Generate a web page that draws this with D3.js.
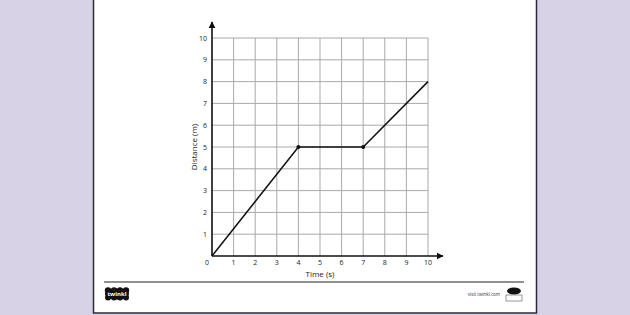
<!DOCTYPE html>
<html>
<head>
<meta charset="utf-8">
<script src="https://cdn.jsdelivr.net/npm/d3@7"></script>
<style>
  body { margin: 0; background: #d8d2e7; }
  svg { display: block; font-family: "Open Sans", "DejaVu Sans", sans-serif; }
</style>
</head>
<body>
<div id="chart-area"></div>
<script>
// distance-time graph data
var times = [0, 4, 7, 10];
var distances = [0, 5, 5, 8];
var xTicks = [0, 1, 2, 3, 4, 5, 6, 7, 8, 9, 10];
var yTicks = [1, 2, 3, 4, 5, 6, 7, 8, 9, 10];
var xLabel = "Time (s)";
var yLabel = "Distance (m)";

var svg = d3.select("#chart-area").append("svg")
    .attr("width", 630)
    .attr("height", 315);

// page
svg.append("rect")
    .attr("x", 93.5).attr("y", -2)
    .attr("width", 443).attr("height", 315)
    .attr("fill", "#fff")
    .attr("stroke", "#2b2b38")
    .attr("stroke-width", 1.5);

var x = d3.scaleLinear().domain([0, 10]).range([212, 428]);
var y = d3.scaleLinear().domain([0, 10]).range([256, 38]);

// grid
svg.append("g").selectAll("line")
    .data(xTicks.slice(1))
    .enter().append("line")
        .attr("x1", (d) => x(d)).attr("x2", (d) => x(d))
        .attr("y1", y(0)).attr("y2", y(10))
        .attr("stroke", "#a9a9a9").attr("stroke-width", 1);

svg.append("g").selectAll("line")
    .data(yTicks)
    .enter().append("line")
        .attr("x1", x(0)).attr("x2", x(10))
        .attr("y1", (d) => y(d)).attr("y2", (d) => y(d))
        .attr("stroke", "#a9a9a9").attr("stroke-width", 1);

// axes with arrows
svg.append("defs").append("marker")
    .attr("id", "arrow")
    .attr("viewBox", "0 0 10 10")
    .attr("refX", 9).attr("refY", 5)
    .attr("markerWidth", 4.5).attr("markerHeight", 4.5)
    .attr("orient", "auto")
    .append("path")
        .attr("d", "M0,0 L10,5 L0,10 Z")
        .attr("fill", "#111");

svg.append("line")
    .attr("x1", x(0)).attr("x2", 443)
    .attr("y1", y(0)).attr("y2", y(0))
    .attr("stroke", "#111").attr("stroke-width", 1.6)
    .attr("marker-end", "url(#arrow)");

svg.append("line")
    .attr("x1", x(0)).attr("x2", x(0))
    .attr("y1", y(0)).attr("y2", 22)
    .attr("stroke", "#111").attr("stroke-width", 1.6)
    .attr("marker-end", "url(#arrow)");

// tick labels
svg.append("g").selectAll("text")
    .data(xTicks)
    .enter().append("text")
        .attr("x", (d) => d == 0 ? x(d) - 5 : x(d))
        .attr("y", 265)
        .attr("text-anchor", "middle")
        .attr("font-size", 7)
        .attr("fill", "#222")
        .text((d) => d);

svg.append("g").selectAll("text")
    .data(yTicks)
    .enter().append("text")
        .attr("x", 207)
        .attr("y", (d) => y(d) + 2.5)
        .attr("text-anchor", "end")
        .attr("font-size", 7)
        .attr("fill", "#222")
        .text((d) => d);

svg.append("text")
    .attr("x", x(5)).attr("y", 276.5)
    .attr("text-anchor", "middle")
    .attr("font-size", 8)
    .attr("fill", "#222")
    .text(xLabel);

svg.append("text")
    .attr("transform", "translate(197," + y(5) + ") rotate(-90)")
    .attr("text-anchor", "middle")
    .attr("font-size", 8)
    .attr("fill", "#222")
    .text(yLabel);

// the graph line
var pts = times.map((t, i) => [t, distances[i]]);
svg.append("path")
    .datum(pts)
    .attr("d", d3.line().x((d) => x(d[0])).y((d) => y(d[1])))
    .attr("fill", "none")
    .attr("stroke", "#111")
    .attr("stroke-width", 1.5);

svg.selectAll("circle.pt")
    .data(pts.slice(1, 3))
    .enter().append("circle")
        .attr("class", "pt")
        .attr("cx", (d) => x(d[0]))
        .attr("cy", (d) => y(d[1]))
        .attr("r", 2)
        .attr("fill", "#111");

// footer
svg.append("line")
    .attr("x1", 104).attr("x2", 524)
    .attr("y1", 282).attr("y2", 282)
    .attr("stroke", "#222").attr("stroke-width", 1.2);

var logo = svg.append("g").attr("transform", "translate(117,294)");
logo.append("ellipse").attr("rx", 12).attr("ry", 5.5).attr("fill", "#111");
[-9, -3, 3, 9].forEach((dx) => {
    logo.append("circle").attr("cx", dx).attr("cy", -3.5).attr("r", 3.2).attr("fill", "#111");
    logo.append("circle").attr("cx", dx).attr("cy", 3.5).attr("r", 3).attr("fill", "#111");
});
logo.append("text")
    .attr("y", 2).attr("text-anchor", "middle")
    .attr("font-size", 6).attr("font-weight", "bold")
    .attr("fill", "#fff")
    .text("twinkl");

svg.append("text")
    .attr("x", 500).attr("y", 296)
    .attr("text-anchor", "end")
    .attr("font-size", 4.5)
    .attr("fill", "#333")
    .text("visit twinkl.com");

var badge = svg.append("g").attr("transform", "translate(514,291)");
badge.append("ellipse").attr("rx", 7).attr("ry", 3.5).attr("fill", "#111");
badge.append("rect").attr("x", -8).attr("y", 4).attr("width", 16).attr("height", 6)
    .attr("fill", "none").attr("stroke", "#555").attr("stroke-width", 0.6);
</script>
</body>
</html>
